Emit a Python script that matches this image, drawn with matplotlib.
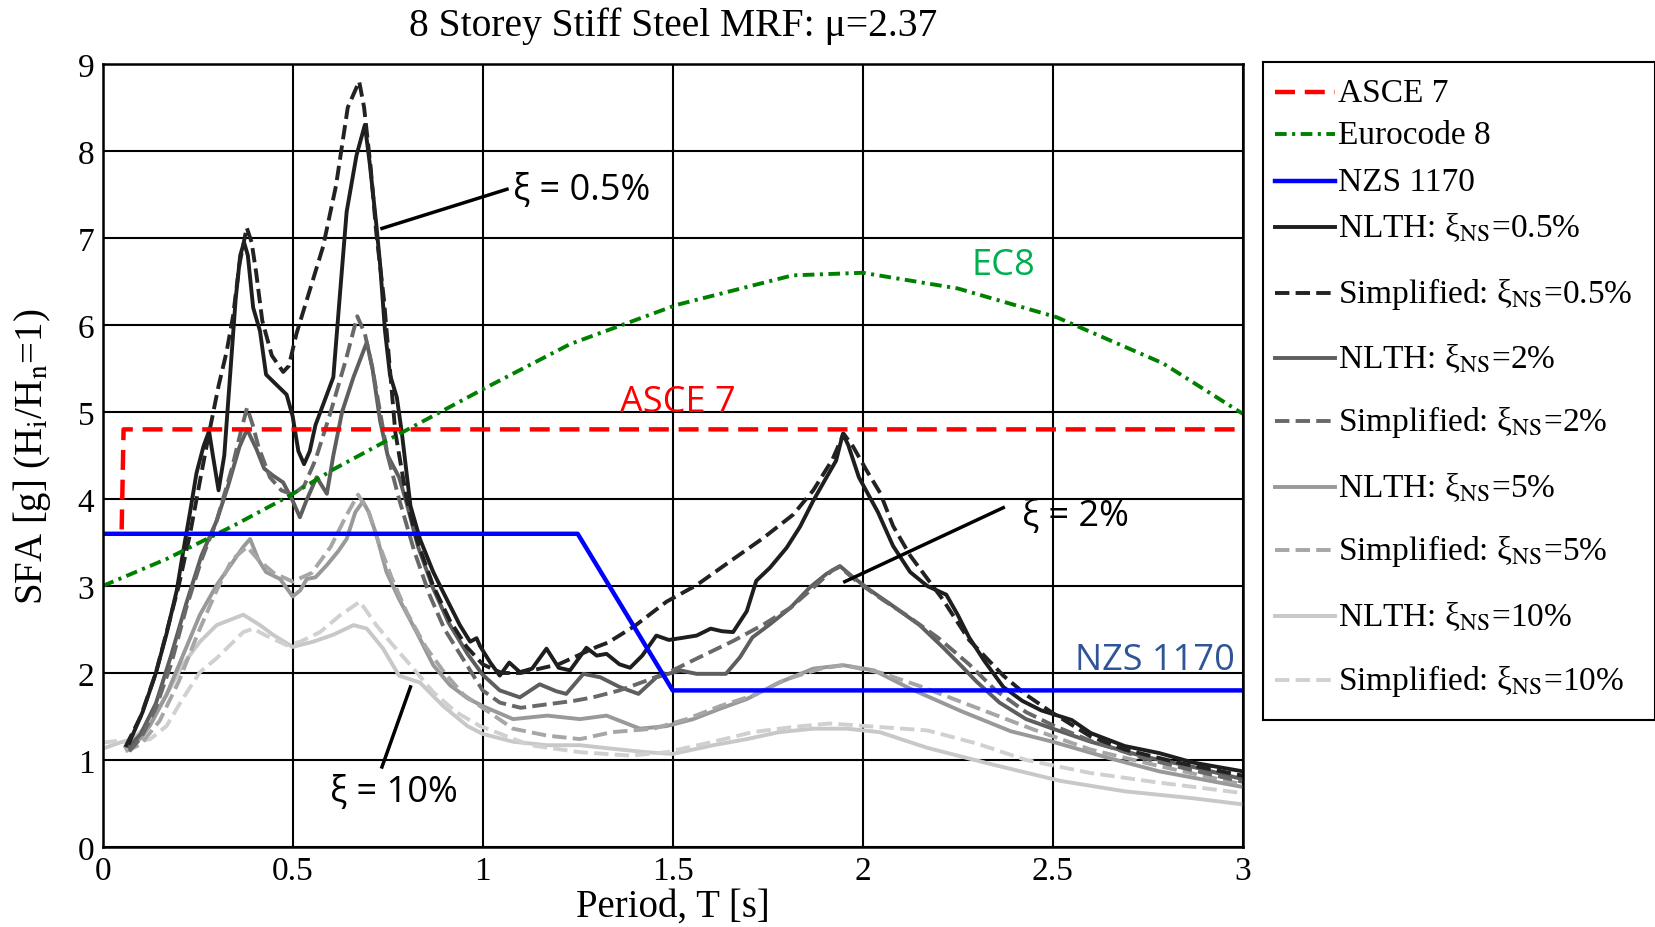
import matplotlib
matplotlib.use("Agg")
import matplotlib.pyplot as plt
from matplotlib.lines import Line2D

plt.rcParams['font.family'] = ['Liberation Serif', 'DejaVu Serif']
plt.rcParams['mathtext.fontset'] = 'stix'

# design spectra
asce_T = [0.05, 0.055, 3.0]
asce_v = [3.65, 4.8, 4.8]

ec8_T = [0.0, 0.168, 0.343, 0.493, 0.607, 0.756, 1.0, 1.23, 1.51, 1.815, 2.0, 2.25, 2.51, 2.79, 3.0]
ec8_v = [3.0, 3.31, 3.69, 4.04, 4.34, 4.69, 5.26, 5.78, 6.23, 6.57, 6.6, 6.42, 6.09, 5.56, 4.98]

nzs_T = [0.0, 1.25, 1.5, 3.0]
nzs_v = [3.6, 3.6, 1.8, 1.8]

# NLTH / simplified floor spectra
nlth05_T = [0.07, 0.105, 0.14, 0.168, 0.195, 0.212, 0.23, 0.247, 0.265, 0.28, 0.29, 0.305, 0.32,
            0.335, 0.35, 0.362, 0.372, 0.382, 0.396, 0.414, 0.43, 0.458, 0.484, 0.5, 0.515, 0.53,
            0.545, 0.56, 0.59, 0.607, 0.624, 0.642, 0.668, 0.69, 0.703, 0.72, 0.73, 0.743, 0.756,
            0.774, 0.787, 0.81, 0.835, 0.87, 0.896, 0.94, 0.967, 0.984, 0.993, 1.02, 1.045, 1.07,
            1.098, 1.13, 1.168, 1.2, 1.23, 1.273, 1.3, 1.326, 1.36, 1.388, 1.42, 1.457, 1.49, 1.52,
            1.563, 1.6, 1.63, 1.659, 1.695, 1.72, 1.756, 1.8, 1.835, 1.87, 1.905, 1.93, 1.948,
            1.962, 1.99, 2.04, 2.08, 2.125, 2.17, 2.22, 2.25, 2.28, 2.32, 2.37, 2.42, 2.47, 2.55,
            2.6, 2.69, 2.78, 2.87, 3.0]
nlth05_v = [1.2, 1.55, 2.0, 2.45, 2.95, 3.4, 3.85, 4.3, 4.6, 4.78, 4.5, 4.1, 4.5,
            5.4, 6.3, 6.8, 6.95, 6.8, 6.2, 5.93, 5.43, 5.31, 5.2, 4.95, 4.55, 4.4,
            4.55, 4.85, 5.2, 5.4, 6.33, 7.3, 7.95, 8.3, 7.85, 7.16, 6.7, 5.93, 5.43,
            5.17, 4.77, 3.92, 3.54, 3.16, 2.93, 2.55, 2.36, 2.4, 2.31, 2.12, 1.97, 2.12,
            2.01, 2.05, 2.28, 2.06, 2.03, 2.29, 2.2, 2.22, 2.1, 2.06, 2.2, 2.43, 2.38, 2.4,
            2.43, 2.51, 2.48, 2.47, 2.71, 3.06, 3.21, 3.44, 3.68, 3.98, 4.25, 4.44, 4.75,
            4.62, 4.25, 3.85, 3.46, 3.16, 3.0, 2.9, 2.67, 2.41, 2.14, 1.84, 1.68, 1.57, 1.46,
            1.31, 1.16, 1.08, 0.97, 0.87]

simp05_T = [0.06, 0.1, 0.14, 0.17, 0.2, 0.23, 0.26, 0.282, 0.305, 0.326, 0.343, 0.36, 0.379,
            0.392, 0.404, 0.42, 0.445, 0.475, 0.49, 0.51, 0.545, 0.58, 0.614, 0.645, 0.675, 0.688,
            0.705, 0.72, 0.74, 0.755, 0.77, 0.8, 0.826, 0.87, 0.914, 0.958, 1.0, 1.05, 1.1, 1.15,
            1.2, 1.25, 1.3, 1.33, 1.4, 1.484, 1.563, 1.65, 1.738, 1.817, 1.87, 1.92, 1.95, 1.975,
            2.01, 2.046, 2.08, 2.125, 2.21, 2.28, 2.37, 2.43, 2.5, 2.6, 2.69, 2.83, 3.0]
simp05_v = [1.15, 1.5, 2.0, 2.5, 3.0, 3.6, 4.3, 4.8, 5.3, 5.69, 6.1, 6.7, 7.12,
            6.95, 6.6, 6.05, 5.65, 5.46, 5.53, 5.9, 6.4, 6.9, 7.6, 8.5, 8.8, 8.5,
            7.82, 7.06, 6.3, 5.54, 4.77, 4.0, 3.54, 3.0, 2.6, 2.3, 2.1, 2.0, 2.0, 2.05,
            2.1, 2.2, 2.3, 2.35, 2.54, 2.82, 3.01, 3.28, 3.55, 3.82, 4.1, 4.45, 4.75, 4.6,
            4.33, 4.07, 3.69, 3.35, 2.85, 2.38, 1.97, 1.75, 1.54, 1.27, 1.12, 0.97, 0.82]

nlth2_T = [0.07, 0.1, 0.14, 0.18, 0.22, 0.26, 0.3, 0.33, 0.36, 0.38, 0.405, 0.425, 0.448, 0.475,
           0.5, 0.519, 0.536, 0.563, 0.59, 0.607, 0.63, 0.66, 0.695, 0.71, 0.73, 0.75, 0.78, 0.8,
           0.83, 0.87, 0.91, 0.96, 1.0, 1.045, 1.098, 1.15, 1.194, 1.22, 1.265, 1.31, 1.36, 1.41,
           1.457, 1.52, 1.563, 1.64, 1.677, 1.71, 1.756, 1.81, 1.86, 1.905, 1.94, 1.975, 2.02,
           2.07, 2.15, 2.21, 2.26, 2.3, 2.36, 2.43, 2.5, 2.6, 2.74, 2.87, 3.0]
nlth2_v = [1.15, 1.3, 1.65, 2.2, 2.8, 3.35, 3.75, 4.15, 4.6, 4.8, 4.57, 4.35, 4.27, 4.19,
           3.98, 3.79, 3.98, 4.25, 4.06, 4.5, 5.0, 5.4, 5.8, 5.5, 4.9, 4.5, 4.25, 3.95,
           3.45, 2.97, 2.58, 2.22, 1.98, 1.8, 1.72, 1.87, 1.79, 1.76, 1.99, 1.95, 1.84, 1.76,
           1.95, 2.03, 1.99, 1.99, 2.18, 2.41, 2.56, 2.75, 2.98, 3.14, 3.23, 3.1, 2.95,
           2.8, 2.55, 2.3, 2.08, 1.9, 1.66, 1.47, 1.36, 1.21, 1.04, 0.92, 0.78]

simp2_T = [0.07, 0.1, 0.14, 0.18, 0.22, 0.26, 0.3, 0.34, 0.365, 0.38, 0.395, 0.41, 0.44, 0.47,
           0.5, 0.53, 0.56, 0.6, 0.64, 0.67, 0.69, 0.71, 0.73, 0.75, 0.78, 0.82, 0.86, 0.9, 0.95,
           1.0, 1.045, 1.1, 1.17, 1.24, 1.29, 1.36, 1.43, 1.5, 1.57, 1.66, 1.74, 1.81, 1.87, 1.92,
           1.94, 1.985, 2.05, 2.12, 2.2, 2.28, 2.35, 2.43, 2.5, 2.6, 2.74, 2.87, 3.0]
simp2_v = [1.1, 1.25, 1.6, 2.1, 2.75, 3.3, 3.75, 4.35, 4.8, 5.05, 4.85, 4.6, 4.25, 4.1,
           4.05, 4.15, 4.45, 5.0, 5.6, 6.1, 5.9, 5.5, 5.0, 4.5, 4.0, 3.4, 2.9, 2.5, 2.15,
           1.8, 1.66, 1.6, 1.64, 1.68, 1.72, 1.8, 1.91, 2.03, 2.18, 2.37, 2.56, 2.75, 2.98, 3.18,
           3.22, 3.05, 2.85, 2.65, 2.4, 2.1, 1.8, 1.55, 1.4, 1.22, 1.02, 0.88, 0.75]

nlth5_T = [0.06, 0.1, 0.125, 0.168, 0.212, 0.256, 0.3, 0.343, 0.37, 0.388, 0.41, 0.43, 0.467,
           0.5, 0.52, 0.537, 0.56, 0.59, 0.62, 0.642, 0.665, 0.685, 0.7, 0.72, 0.747, 0.78, 0.826,
           0.87, 0.914, 0.96, 1.0, 1.08, 1.17, 1.256, 1.326, 1.414, 1.484, 1.554, 1.625, 1.695,
           1.78, 1.87, 1.948, 2.03, 2.125, 2.26, 2.39, 2.5, 2.65, 2.78, 3.0]
nlth5_v = [1.15, 1.25, 1.4, 1.75, 2.21, 2.67, 3.01, 3.28, 3.45, 3.54, 3.3, 3.16, 3.08,
           2.88, 2.95, 3.08, 3.1, 3.24, 3.4, 3.54, 3.85, 3.97, 3.85, 3.59, 3.16, 2.85, 2.47,
           2.09, 1.86, 1.71, 1.62, 1.47, 1.51, 1.47, 1.51, 1.36, 1.39, 1.47, 1.59, 1.7,
           1.89, 2.05, 2.09, 2.03, 1.82, 1.56, 1.33, 1.21, 1.02, 0.87, 0.69]

simp5_T = [0.06, 0.1, 0.15, 0.2, 0.25, 0.3, 0.34, 0.38, 0.41, 0.45, 0.5, 0.55, 0.6, 0.64, 0.672,
           0.7, 0.73, 0.76, 0.8, 0.85, 0.9, 0.95, 1.0, 1.08, 1.17, 1.256, 1.34, 1.45, 1.537, 1.625,
           1.71, 1.8, 1.89, 1.95, 2.05, 2.15, 2.3, 2.45, 2.6, 2.78, 3.0]
simp5_v = [1.1, 1.18, 1.45, 1.9, 2.45, 2.95, 3.3, 3.45, 3.3, 3.15, 3.05, 3.15, 3.45, 3.8, 4.05,
           3.85, 3.45, 3.1, 2.7, 2.3, 2.0, 1.75, 1.6, 1.36, 1.28, 1.24, 1.32, 1.36, 1.47, 1.62,
           1.74, 1.93, 2.05, 2.09, 2.0, 1.85, 1.6, 1.35, 1.12, 0.93, 0.72]

nlth10_T = [0.0, 0.045, 0.08, 0.125, 0.168, 0.21, 0.256, 0.3, 0.37, 0.414, 0.448, 0.5, 0.554,
            0.607, 0.66, 0.695, 0.738, 0.78, 0.835, 0.896, 0.96, 1.0, 1.08, 1.17, 1.256, 1.34,
            1.43, 1.5, 1.607, 1.695, 1.78, 1.87, 1.958, 2.045, 2.17, 2.34, 2.52, 2.69, 2.87, 3.0]
nlth10_v = [1.13, 1.2, 1.24, 1.43, 1.75, 2.09, 2.36, 2.55, 2.67, 2.55, 2.44, 2.3, 2.36,
            2.44, 2.55, 2.51, 2.28, 1.97, 1.89, 1.62, 1.39, 1.3, 1.21, 1.17, 1.17, 1.13,
            1.09, 1.07, 1.17, 1.24, 1.32, 1.36, 1.36, 1.32, 1.14, 0.95, 0.76, 0.64, 0.56, 0.49]

simp10_T = [0.0, 0.04, 0.08, 0.125, 0.168, 0.21, 0.256, 0.3, 0.37, 0.396, 0.43, 0.484, 0.52,
            0.572, 0.624, 0.677, 0.72, 0.764, 0.81, 0.87, 0.93, 0.993, 1.125, 1.256, 1.39, 1.484,
            1.607, 1.71, 1.817, 1.914, 2.01, 2.17, 2.3, 2.43, 2.6, 2.78, 3.0]
simp10_v = [1.2, 1.22, 1.2, 1.24, 1.39, 1.7, 2.01, 2.17, 2.47, 2.51, 2.43, 2.32, 2.36,
            2.47, 2.66, 2.82, 2.55, 2.32, 2.09, 1.78, 1.55, 1.39, 1.17, 1.09, 1.05, 1.09,
            1.21, 1.32, 1.38, 1.42, 1.39, 1.34, 1.19, 1.0, 0.85, 0.74, 0.62]

x_ticks = [0, 0.5, 1, 1.5, 2, 2.5, 3]
x_tick_labels = ['0', '0.5', '1', '1.5', '2', '2.5', '3']
y_ticks = list(range(10))

fig = plt.figure(figsize=(16.56, 9.28), dpi=100)
ax = fig.add_axes([0.062, 0.0862, 0.6884, 0.8438])

lw = 2.8
h_n10, = ax.plot(nlth10_T, nlth10_v, color='#c8c8c8', lw=lw, label='NLTH: ξ$_{\\mathrm{NS}}$=10%')
h_s10, = ax.plot(simp10_T, simp10_v, color='#d0d0d0', lw=lw, ls='--', label='Simplified: ξ$_{\\mathrm{NS}}$=10%')
h_n5, = ax.plot(nlth5_T, nlth5_v, color='#999999', lw=lw, label='NLTH: ξ$_{\\mathrm{NS}}$=5%')
h_s5, = ax.plot(simp5_T, simp5_v, color='#a6a6a6', lw=lw, ls='--', label='Simplified: ξ$_{\\mathrm{NS}}$=5%')
h_n2, = ax.plot(nlth2_T, nlth2_v, color='#5e5e5e', lw=lw, label='NLTH: ξ$_{\\mathrm{NS}}$=2%')
h_s2, = ax.plot(simp2_T, simp2_v, color='#686868', lw=lw, ls='--', label='Simplified: ξ$_{\\mathrm{NS}}$=2%')
h_n05, = ax.plot(nlth05_T, nlth05_v, color='#1e1e1e', lw=lw, label='NLTH: ξ$_{\\mathrm{NS}}$=0.5%')
h_s05, = ax.plot(simp05_T, simp05_v, color='#222222', lw=lw, ls='--', label='Simplified: ξ$_{\\mathrm{NS}}$=0.5%')

h_asce, = ax.plot(asce_T, asce_v, color='#ff0000', lw=3.2, dashes=(4.5, 2.2), label='ASCE 7')
h_ec8, = ax.plot(ec8_T, ec8_v, color='#008000', lw=2.8, dashes=(3, 1.4, 0.8, 1.4), label='Eurocode 8')
h_nzs, = ax.plot(nzs_T, nzs_v, color='#0000ff', lw=3.2, label='NZS 1170')

ax.set_xlim(0, 3)
ax.set_ylim(0, 9)
ax.set_xticks(x_ticks)
ax.set_xticklabels(x_tick_labels)
ax.set_yticks(y_ticks)
ax.grid(True, color='black', lw=1.5)
ax.set_axisbelow(True)
for s in ax.spines.values():
    s.set_linewidth(1.8)
ax.tick_params(length=0, labelsize=24, pad=6)

ax.set_title('8 Storey Stiff Steel MRF: μ=2.37', fontsize=28.5, pad=21)
ax.set_xlabel('Period, T [s]', fontsize=28)
ax.xaxis.set_label_coords(0.5, -0.052)
ax.set_ylabel('SFA [g] (H$_{\\mathrm{i}}$/H$_{\\mathrm{n}}$=1)', fontsize=28)
ax.yaxis.set_label_coords(-0.044, 0.5)

# annotations
ann_font = dict(family=['Open Sans', 'DejaVu Sans'], fontsize=26)
ax.plot([0.735, 1.064], [7.11, 7.56], color='black', lw=2.5)
ax.text(1.08, 7.56, 'ξ = 0.5%', va='center', ha='left', color='black', **ann_font)
ax.plot([1.953, 2.37], [3.05, 3.9], color='black', lw=2.5)
ax.text(2.42, 3.82, 'ξ = 2%', va='center', ha='left', color='black', **ann_font)
ax.plot([0.81, 0.735], [1.84, 0.92], color='black', lw=2.5)
ax.text(0.767, 0.64, 'ξ = 10%', va='center', ha='center', color='black', **ann_font)
ax.text(1.515, 5.12, 'ASCE 7', va='center', ha='center', color='#ff0000', **ann_font)
ax.text(2.37, 6.69, 'EC8', va='center', ha='center', color='#00b050', **ann_font)
ax.text(2.77, 2.15, 'NZS 1170', va='center', ha='center', color='#2f5597', **ann_font)

# legend box, laid out in pixel-like coords so the rows with subscripts sit further apart
handles = [h_asce, h_ec8, h_nzs, h_n05, h_s05, h_n2, h_s2, h_n5, h_s5, h_n10, h_s10]
row_y = [93, 135, 182, 228, 294, 359, 422, 488, 551, 617, 681]
lax = fig.add_axes([1263 / 1656, 1 - 721 / 928, 392 / 1656, 658 / 928])
lax.set_xlim(1263, 1655)
lax.set_ylim(721, 63)
lax.set_xticks([])
lax.set_yticks([])
for s in lax.spines.values():
    s.set_linewidth(1.5)
for h, y in zip(handles, row_y):
    sample = Line2D([1275, 1335], [y, y])
    sample.update_from(h)
    sample.set_transform(lax.transData)
    lax.add_line(sample)
    lax.text(1338, y + 9, h.get_label(), va='baseline', ha='left', fontsize=24)

fig.savefig('out.png', dpi=100)
